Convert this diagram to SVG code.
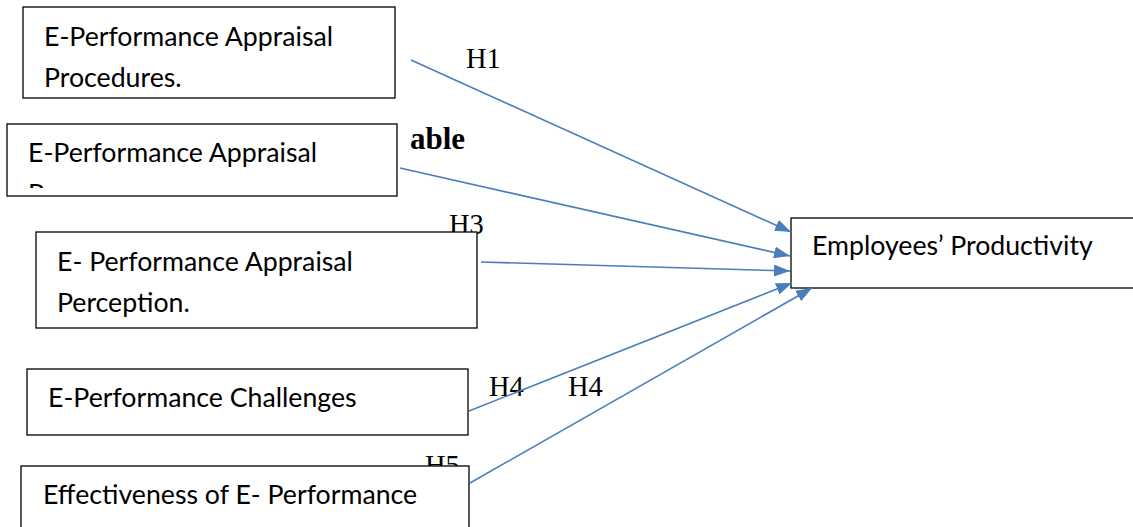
<svg xmlns="http://www.w3.org/2000/svg" width="1133" height="527" viewBox="0 0 1133 527">
<style>
.box{fill:#fff;stroke:#000;stroke-width:1.3}
.t{font-family:Lato,"Liberation Sans",sans-serif;font-size:26.7px;fill:#000}
.h{font-family:"Liberation Serif","Times New Roman",serif;font-size:28.5px;fill:#000}
.b{font-weight:bold;font-size:31px}
.c{stroke:#4a7ebb;stroke-width:1.6;fill:none;marker-end:url(#arr)}
</style>
<defs>
<marker id="arr" markerUnits="userSpaceOnUse" markerWidth="18" markerHeight="14" refX="16" refY="6" orient="auto">
<path d="M0,0 L16,6 L0,12 Z" fill="#4a7ebb"/>
</marker>
<clipPath id="clip2"><rect x="7" y="124" width="390" height="64"/></clipPath>
</defs>
<rect width="1133" height="527" fill="#fff"/>
<g id="labels">
<text class="h" x="466" y="68">H1</text>
<text class="h b" x="410" y="149">able</text>
<text class="h" x="449" y="234">H3</text>
<text class="h" x="489" y="396">H4</text>
<text class="h" x="568" y="396">H4</text>
<text class="h" x="425" y="475">H5</text>
</g>
<g id="node-procedures">
<rect class="box" x="23" y="7" width="372" height="91"/>
<text class="t" x="44" y="46">E-Performance Appraisal</text>
<text class="t" x="44" y="87">Procedures.</text>
</g>
<g id="node-appraisal2">
<rect class="box" x="7" y="124" width="390" height="72"/>
<text class="t" x="28" y="162">E-Performance Appraisal</text>
<text class="t" x="28" y="203" clip-path="url(#clip2)">P</text>
</g>
<g id="node-perception">
<rect class="box" x="36" y="232" width="441" height="96"/>
<text class="t" x="57" y="271">E- Performance Appraisal</text>
<text class="t" x="57" y="312">Perception.</text>
</g>
<g id="node-challenges">
<rect class="box" x="27" y="369" width="441" height="66"/>
<text class="t" x="48" y="407">E-Performance Challenges</text>
</g>
<g id="node-effectiveness">
<rect class="box" x="21" y="466" width="448" height="80"/>
<text class="t" x="43" y="504">Effectiveness of E- Performance</text>
</g>
<g id="node-productivity">
<rect class="box" x="791" y="218" width="360" height="70"/>
<text class="t" x="812" y="255">Employees’ Productivity</text>
</g>
<g id="connectors">
<line class="c" x1="411" y1="60" x2="791" y2="232"/>
<line class="c" x1="400" y1="168" x2="790" y2="256"/>
<line class="c" x1="481" y1="262" x2="790" y2="271"/>
<line class="c" x1="469" y1="411" x2="792" y2="283"/>
<line class="c" x1="470" y1="483" x2="812" y2="288"/>
</g>
</svg>
